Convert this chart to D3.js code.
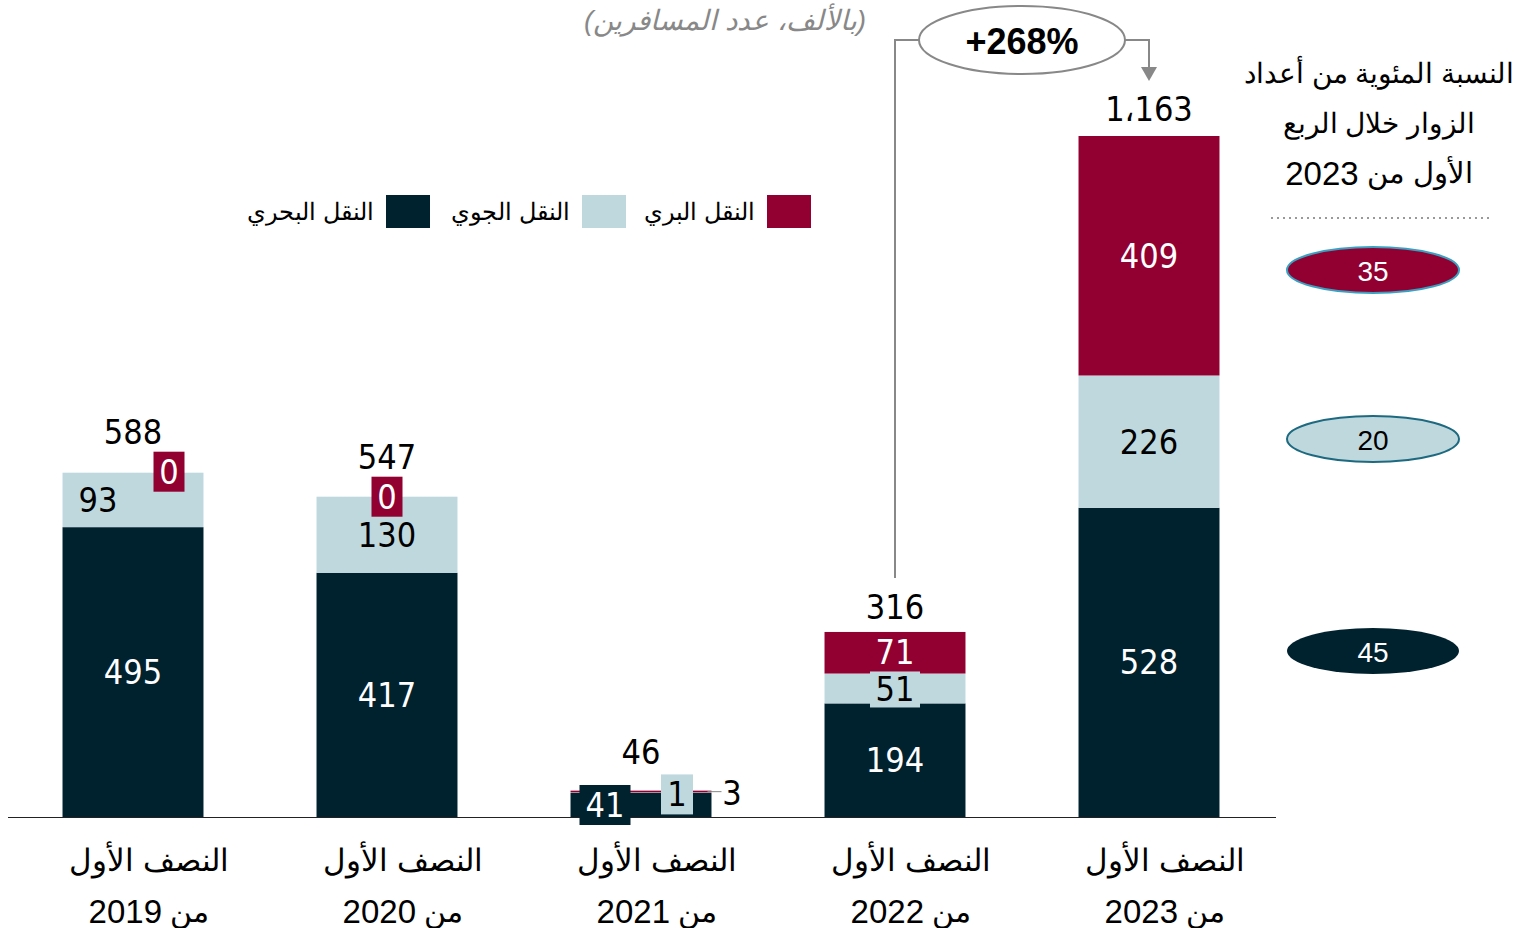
<!DOCTYPE html>
<html><head><meta charset="utf-8">
<script src="https://cdn.jsdelivr.net/npm/d3@7"></script>
<style>body{margin:0;background:#fff}svg{display:block}</style>
</head><body>
<svg id="c" width="1514" height="928"></svg>
<script>
const categories = ["2019","2020","2021","2022","2023"];
const sea  = [495, 417, 41, 194, 528];
const air  = [93, 130, 1, 51, 226];
const land = [0, 0, 3, 71, 409];
const totals = ["588","547","46","316","1،163"];
const seriesNames = ["النقل البري","النقل الجوي","النقل البحري"];
const shares = [35, 20, 45];
const growthLabel = "+268%";

const colors = {land:"#910030", air:"#BFD8DE", sea:"#00222F"};
const svg = d3.select("#c");
const base = 817;
const x = d3.scaleBand().domain(categories).range([6,1276]).paddingInner(0.445).paddingOuter(0.2225);
const y = d3.scaleLinear().domain([0,1163]).range([base,136]);
const bw = x.bandwidth();

const rows = categories.map((c,i)=>({cat:c, sea:sea[i], air:air[i], land:land[i]}));
const stack = d3.stack().keys(["sea","air","land"])(rows);

svg.append("g").selectAll("g").data(stack).join("g")
  .attr("fill", s=>colors[s.key])
  .selectAll("rect").data(s=>s).join("rect")
  .attr("x", d=>x(d.data.cat)).attr("width", bw)
  .attr("y", d=>y(d[1])).attr("height", d=>y(d[0])-y(d[1]));

// baseline
svg.append("line").attr("x1",8).attr("x2",1276).attr("y1",base+0.5).attr("y2",base+0.5)
  .attr("stroke","#222").attr("stroke-width",1.2);

const numFont = "'DejaVu Sans Condensed','DejaVu Sans',sans-serif";
function label(t, cx, cy, color, bg, bwid, bh){
  if(bg){
    const h = bh||40;
    svg.append("rect").attr("x",cx-bwid/2).attr("y",cy-h/2).attr("width",bwid).attr("height",h).attr("fill",bg);
  }
  svg.append("text").attr("x",cx).attr("y",cy).attr("text-anchor","middle")
    .attr("dominant-baseline","central").attr("font-family",numFont).attr("font-size",34)
    .attr("fill",color).text(t);
}
const segMid = (i,k)=>{const s=stack.find(z=>z.key===k)[i]; return (y(s[0])+y(s[1]))/2;};
const cx = i=>x(categories[i])+bw/2;

// 2019
label(sea[0], cx(0), segMid(0,"sea"), "#fff");
label(air[0], cx(0)-35, segMid(0,"air"), "#000");
label(land[0], cx(0)+36, y(sea[0]+air[0])-1, "#fff", colors.land, 31);
// 2020
label(sea[1], cx(1), segMid(1,"sea"), "#fff");
label(air[1], cx(1), segMid(1,"air"), "#000");
label(land[1], cx(1), y(sea[1]+air[1]), "#fff", colors.land, 31);
// 2021
label(sea[2], cx(2)-36, segMid(2,"sea"), "#fff", colors.sea, 51);
label(air[2], cx(2)+36, y(sea[2]+air[2])+2, "#000", colors.air, 32);
svg.append("line").attr("x1",cx(2)+bw/2-4).attr("x2",cx(2)+bw/2+10)
  .attr("y1",y(sea[2]+air[2]+land[2])+1).attr("y2",y(sea[2]+air[2]+land[2])+1).attr("stroke","#888");
label(land[2], cx(2)+91, y(sea[2]+air[2]+land[2])+2, "#000");
// 2022
label(sea[3], cx(3), segMid(3,"sea"), "#fff");
label(air[3], cx(3), segMid(3,"air")+1, "#000", colors.air, 50, 36);
label(land[3], cx(3), segMid(3,"land")-1, "#fff");
// 2023
label(sea[4], cx(4), segMid(4,"sea"), "#fff");
label(air[4], cx(4), segMid(4,"air"), "#000");
label(land[4], cx(4), segMid(4,"land"), "#fff");

// totals
const totalDy = [-41,-40,-39,-25,-27];
categories.forEach((c,i)=>{
  const t = sea[i]+air[i]+land[i];
  svg.append("text").attr("x",cx(i)).attr("y",y(t)+totalDy[i]).attr("text-anchor","middle")
    .attr("dominant-baseline","central").attr("font-family",numFont).attr("font-size",34)
    .attr("fill","#000").attr("direction","ltr").text(totals[i]);
});

// x axis labels
const arFont = "'Liberation Sans',Arial,sans-serif";
categories.forEach((c,i)=>{
  svg.append("text").attr("x",cx(i)+16).attr("y",860).attr("text-anchor","middle").attr("dominant-baseline","central")
    .attr("font-family",arFont).attr("font-size",31).attr("direction","rtl").text("النصف الأول");
  const t2 = svg.append("text").attr("x",cx(i)+16).attr("y",911).attr("text-anchor","middle").attr("dominant-baseline","central")
    .attr("font-family",arFont).attr("font-size",30).attr("direction","rtl");
  t2.append("tspan").text("من ");
  t2.append("tspan").attr("font-size",33).text(c);
});

// legend
const legendItems = [
  {name:seriesNames[0], color:colors.land, rx:767},
  {name:seriesNames[1], color:colors.air, rx:582},
  {name:seriesNames[2], color:colors.sea, rx:386}
];
legendItems.forEach(d=>{
  svg.append("rect").attr("x",d.rx).attr("y",195).attr("width",44).attr("height",33).attr("fill",d.color);
  svg.append("text").attr("x",d.rx-12).attr("y",211).attr("text-anchor","end").attr("dominant-baseline","central")
    .attr("font-family",arFont).attr("font-size",24).attr("fill","#000").text(d.name);
});

// subtitle
svg.append("text").attr("x",725).attr("y",20).attr("text-anchor","middle").attr("dominant-baseline","central")
  .attr("font-family",arFont).attr("font-size",28).attr("font-style","italic").attr("fill","#888")
  .attr("direction","rtl").text("(بالألف، عدد المسافرين)");

// growth annotation
const g = svg.append("g");
const t22 = sea[3]+air[3]+land[3];
g.append("path").attr("d",`M${cx(3)},${y(t22)-54} V40 H920`).attr("fill","none").attr("stroke","#888").attr("stroke-width",2);
g.append("path").attr("d",`M1125,40 H${cx(4)} V70`).attr("fill","none").attr("stroke","#888").attr("stroke-width",2);
g.append("path").attr("d",`M${cx(4)-8},67 L${cx(4)+8},67 L${cx(4)},81 Z`).attr("fill","#888");
g.append("ellipse").attr("cx",1022).attr("cy",40).attr("rx",103).attr("ry",34).attr("fill","#fff").attr("stroke","#888").attr("stroke-width",2);
g.append("text").attr("x",1022).attr("y",41).attr("text-anchor","middle").attr("dominant-baseline","central")
  .attr("font-family",arFont).attr("font-weight","bold").attr("font-size",36).attr("fill","#000").text(growthLabel);

// right panel
const titleLines = ["النسبة المئوية من أعداد","الزوار خلال الربع","الأول من "];
titleLines.forEach((t,i)=>{
  const tt = svg.append("text").attr("x",1379).attr("y",73+i*50).attr("text-anchor","middle").attr("dominant-baseline","central")
    .attr("font-family",arFont).attr("font-size",i<2?28:29).attr("direction","rtl").attr("fill","#000");
  tt.append("tspan").text(t);
  if(i===2) tt.append("tspan").attr("font-size",33).text("2023");
});
svg.append("line").attr("x1",1271).attr("x2",1490).attr("y1",218).attr("y2",218)
  .attr("stroke","#999").attr("stroke-width",2).attr("stroke-dasharray","2,4");
const sharePos = [
  {cy:270, fill:colors.land, stroke:"#3aa0c0", tc:"#fff"},
  {cy:439, fill:colors.air, stroke:"#1d6a80", tc:"#000"},
  {cy:651, fill:colors.sea, stroke:"none", tc:"#fff"}
];
shares.forEach((v,i)=>{
  const p = sharePos[i];
  svg.append("ellipse").attr("cx",1373).attr("cy",p.cy).attr("rx",86).attr("ry",23)
    .attr("fill",p.fill).attr("stroke",p.stroke).attr("stroke-width",2);
  svg.append("text").attr("x",1373).attr("y",p.cy+1).attr("text-anchor","middle").attr("dominant-baseline","central")
    .attr("font-family",arFont).attr("font-size",28).attr("fill",p.tc).text(v);
});
</script>
</body></html>
